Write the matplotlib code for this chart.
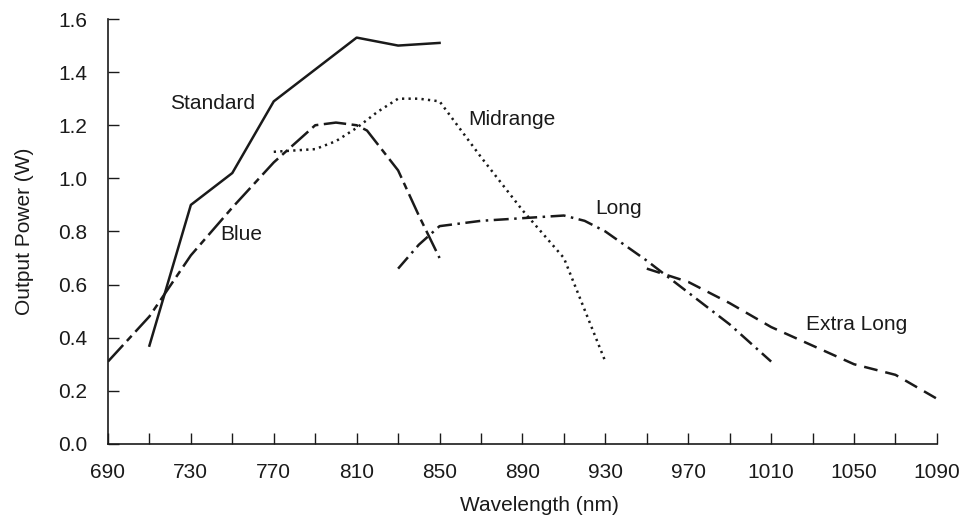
import numpy as np
import matplotlib.pyplot as plt

plt.rcParams['font.family'] = ['Liberation Sans', 'DejaVu Sans']

# output power curves
std_x = [710, 730, 750, 770, 790, 810, 830, 850]
std_y = [0.37, 0.90, 1.02, 1.29, 1.41, 1.53, 1.50, 1.51]

blue_x = [690, 710, 730, 750, 770, 790, 800, 810, 815, 830, 840, 850]
blue_y = [0.31, 0.48, 0.71, 0.89, 1.06, 1.20, 1.21, 1.20, 1.18, 1.03, 0.86, 0.70]

mid_x = [770, 790, 800, 810, 820, 830, 840, 850, 870, 890, 910, 930]
mid_y = [1.10, 1.11, 1.14, 1.19, 1.25, 1.30, 1.30, 1.29, 1.08, 0.88, 0.70, 0.31]

long_x = [830, 840, 850, 870, 890, 910, 920, 930, 950, 970, 990, 1010]
long_y = [0.66, 0.75, 0.82, 0.84, 0.85, 0.86, 0.84, 0.80, 0.69, 0.57, 0.45, 0.31]

xlong_x = [950, 970, 990, 1010, 1030, 1050, 1070, 1090]
xlong_y = [0.66, 0.61, 0.53, 0.44, 0.37, 0.30, 0.26, 0.17]

labels = ['Standard', 'Blue', 'Midrange', 'Long', 'Extra Long']
label_pos = [(720, 1.28), (744, 0.79), (864, 1.22), (925, 0.885), (1027, 0.45)]

fig = plt.figure(figsize=(9.77, 5.21), dpi=100)
ax = fig.add_axes([0.1105, 0.148, 0.8485, 0.8155])

ink = '#1a1a1a'
lw = 1.8
ax.plot(std_x, std_y, color=ink, lw=lw, linestyle='-')
ax.plot(blue_x, blue_y, color=ink, lw=lw, linestyle=(0, (9, 2.2, 2.8, 2.2)))
ax.plot(mid_x, mid_y, color=ink, lw=lw, linestyle=(0, (0.9, 1.7)))
ax.plot(long_x, long_y, color=ink, lw=lw, linestyle=(0, (6, 2.2, 1, 2.2)))
ax.plot(xlong_x, xlong_y, color=ink, lw=lw, linestyle=(0, (5.5, 3.2)))

for name, (tx, ty) in zip(labels, label_pos):
    ax.text(tx, ty, name, fontsize=15, ha='left', va='center', color=ink)

ax.set_xlim(690, 1090)
ax.set_ylim(0, 1.6)
ax.set_xticks(np.arange(690, 1091, 40))
ax.set_xticks(np.arange(710, 1091, 40), minor=True)
ax.set_yticks(np.arange(0, 1.61, 0.2))
ax.set_yticklabels([f'{v:.1f}' for v in np.arange(0, 1.61, 0.2)])

for side in ['top', 'right']:
    ax.spines[side].set_visible(False)
for side in ['left', 'bottom']:
    ax.spines[side].set_linewidth(1.2)
    ax.spines[side].set_color(ink)

ax.tick_params(axis='both', which='both', direction='in', length=8, width=1.0,
               color=ink, labelsize=15, labelcolor=ink)
ax.tick_params(axis='x', which='both', pad=14)
ax.tick_params(axis='y', which='both', pad=15)

ax.set_xlabel('Wavelength (nm)', fontsize=15, color=ink)
ax.set_ylabel('Output Power (W)', fontsize=15, color=ink)
ax.xaxis.set_label_coords(0.52, -0.122)
ax.yaxis.set_label_coords(-0.089, 0.5)

fig.savefig('out.png', dpi=100)
